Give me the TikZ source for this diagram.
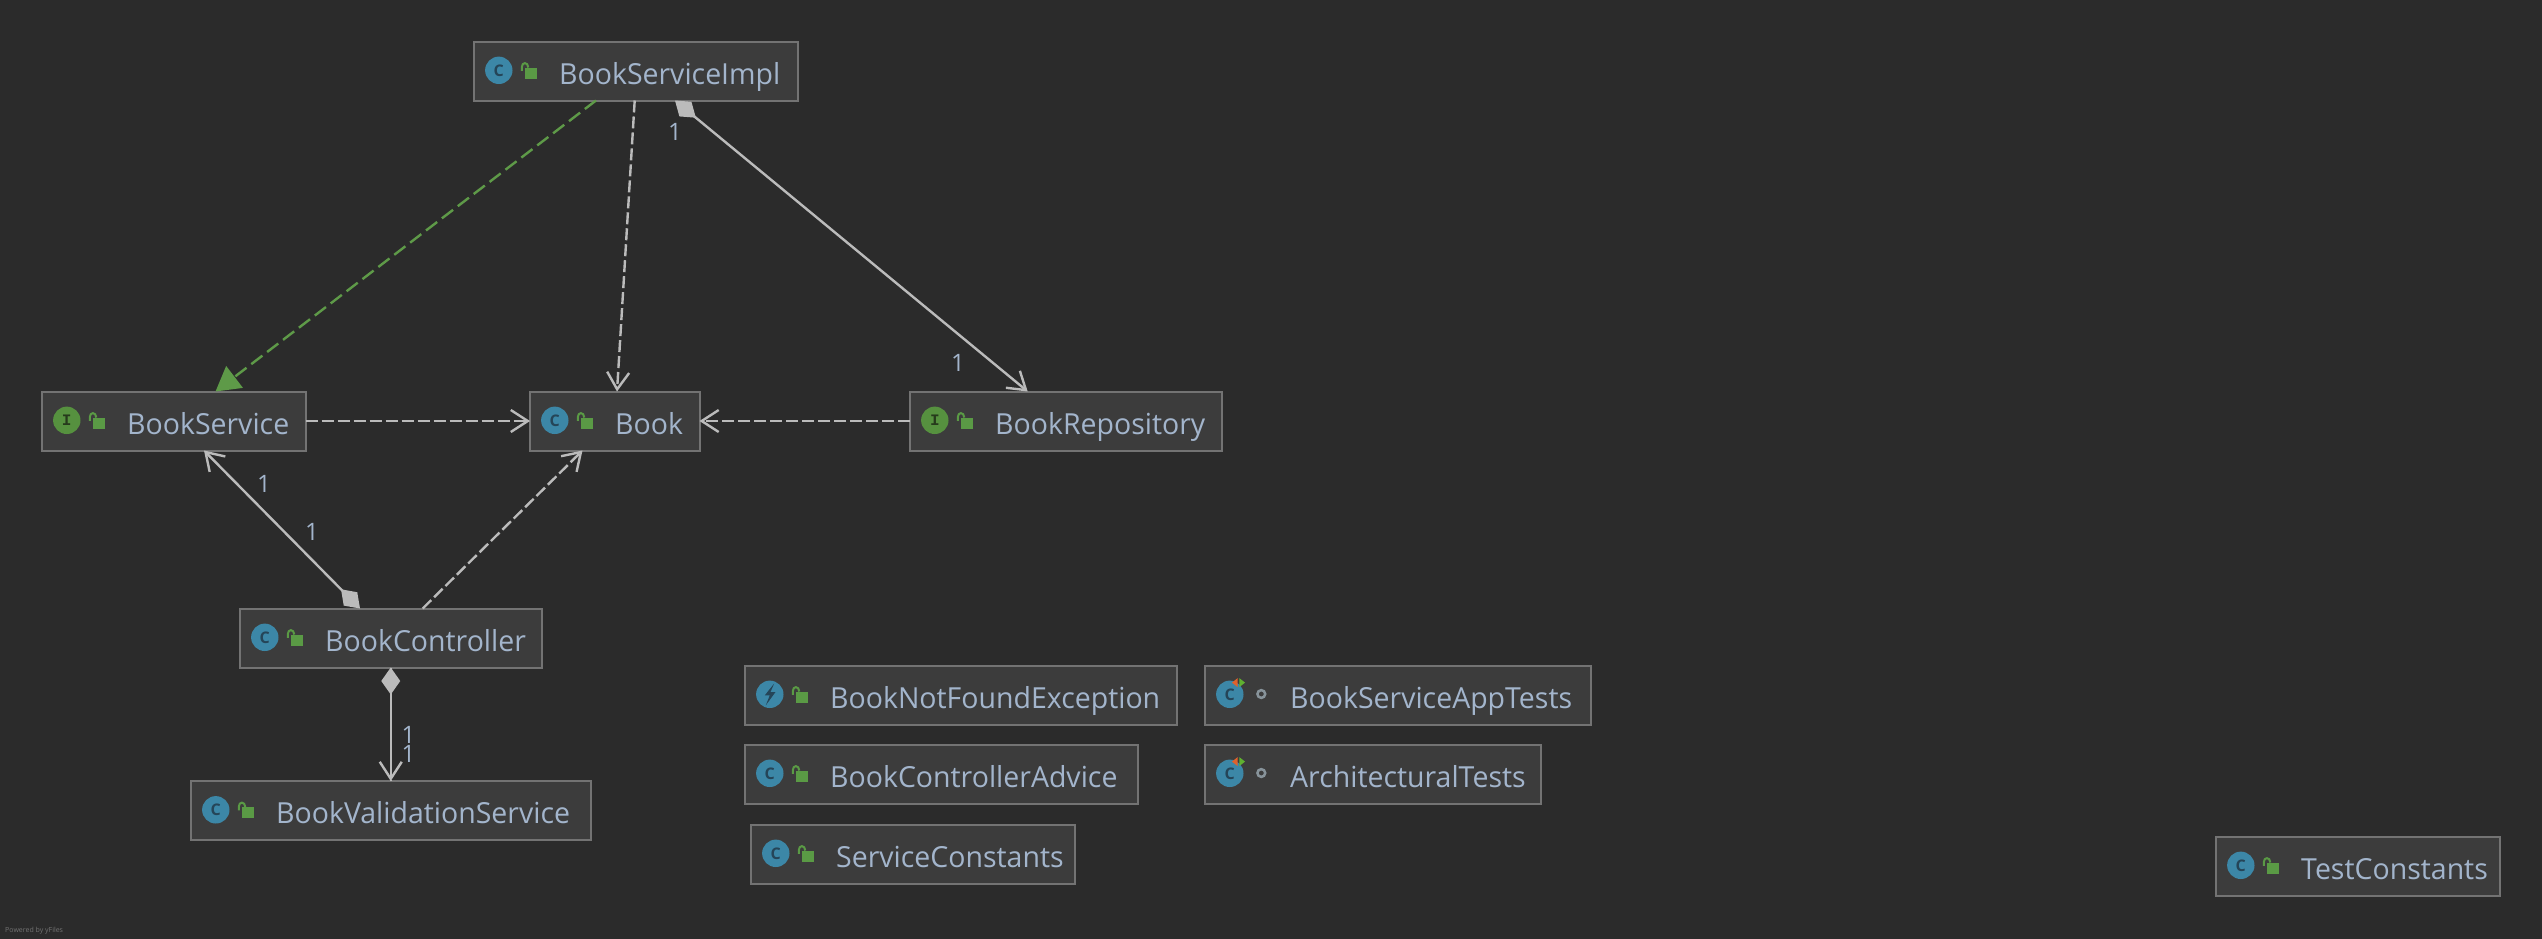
\documentclass[tikz,border=0pt]{standalone}
\usepackage{fontspec}
\setmainfont{Open Sans}
\newfontfamily\boxfam[FakeStretch=0.982]{Open Sans}
\newfontfamily\monofam{Liberation Mono}
\usetikzlibrary{arrows.meta,calc}
\definecolor{bgc}{HTML}{2B2B2B}
\definecolor{boxfill}{HTML}{3C3C3C}
\definecolor{boxline}{HTML}{737373}
\definecolor{txt}{HTML}{A3B5CC}
\definecolor{linec}{HTML}{BBBBBB}
\definecolor{implc}{HTML}{5E9A48}
\definecolor{classc}{HTML}{3C87A7}
\definecolor{ifacec}{HTML}{56913F}
\definecolor{letterc}{HTML}{254558}
\definecolor{letteri}{HTML}{263A1C}
\definecolor{lockc}{HTML}{5A9A45}
\definecolor{ringc}{HTML}{87939A}
\definecolor{redt}{HTML}{E0622C}
\definecolor{greent}{HTML}{5FB030}
\tikzset{
  umlbox/.style={draw=boxline,fill=boxfill,line width=2pt,inner sep=0pt,outer sep=0pt},
  nodetext/.style={anchor=base west,inner sep=0pt,outer sep=0pt,text=txt,font=\boxfam\fontsize{29}{34}\selectfont},
  iconletter/.style={inner sep=0pt,outer sep=0pt,font=\fontsize{16}{18}\selectfont\bfseries},
  mult/.style={inner sep=0pt,outer sep=0pt,text=txt,font=\fontsize{24}{28}\selectfont},
  conn/.style={draw=linec,line width=2.4pt},
  dep/.style={conn,dash pattern=on 12pt off 4pt,-{Straight Barb[length=17pt,width=22pt,line width=2.4pt]}},
  assoc/.style={conn,{Kite[length=27pt,width=19pt,inset=13.5pt]}-{Straight Barb[length=17pt,width=22pt,line width=2.4pt]}},
  realize/.style={draw=implc,line width=2.4pt,dash pattern=on 14pt off 6pt,-{Triangle[length=24pt,width=27pt]}},
}
\newcommand{\lockicon}{%
  \fill[lockc] (50.5,-3.4) rectangle (62.5,7.6);
  \draw[lockc,line width=2pt] (47.8,-0.2) -- (47.8,-4) .. controls (47.8,-9) and (54,-9.5) .. (54.3,-3.5);
}
\newcommand{\iconc}[1]{%
  \fill[classc] (24.8,-0.7) circle[radius=13.7];
  \node[iconletter,text=letterc] (#1-icon) at (24.8,-0.7) {C};
  \lockicon
}
\newcommand{\iconi}[1]{%
  \fill[ifacec] (24.8,-0.7) circle[radius=13.7];
  \node[iconletter,text=letteri,font=\fontsize{16}{18}\selectfont\monofam\bfseries] (#1-icon) at (24.8,-0.7) {I};
  \lockicon
}
\newcommand{\icone}[1]{%
  \fill[classc] (24.8,-0.7) circle[radius=13.7];
  \fill[letterc] (29.1,-11.4) -- (19.8,0.3) -- (24.8,0.3) -- (20.8,10.3) -- (30.5,-3) -- (25.5,-3) -- cycle;
  \lockicon
}
\newcommand{\icont}[1]{%
  \fill[classc] (24.8,-0.7) circle[radius=13.7];
  \node[iconletter,text=letterc] (#1-icon) at (24.8,-0.7) {C};
  \fill[redt] (27,-12.4) -- (32.6,-16.9) -- (32.6,-7.9) -- cycle;
  \fill[greent] (34.3,-16.9) -- (40,-12.4) -- (34.3,-7.9) -- cycle;
  \draw[ringc,line width=2.5pt] (56.3,-1) circle[radius=3.9];
}
% name, left, top, right, bottom, icon kind, text
\newcommand{\umlnode}[7]{%
  \pgfmathsetmacro{\cxx}{(#2+#4)/2}%
  \pgfmathsetmacro{\cyy}{(#3+#5)/2}%
  \pgfmathsetmacro{\www}{#4-#2-2}%
  \pgfmathsetmacro{\hhh}{#5-#3-2}%
  \node[umlbox,minimum width=\www pt,minimum height=\hhh pt] (#1) at (\cxx,\cyy) {};
  \begin{scope}[shift={(#1.west)}]
    \csname icon#6\endcsname{#1}
    \node[nodetext] (#1-text) at (85.2,13) {#7};
  \end{scope}
}
\begin{document}
\begin{tikzpicture}[x=1pt,y=-1pt]
\useasboundingbox (0,0) rectangle (2542,938);
\fill[bgc] (-3,-3) rectangle (2545,941);

\umlnode{impl}{473}{40.5}{798.5}{101.5}{c}{BookServiceImpl}
\umlnode{svc}{41}{390.5}{306.5}{451.5}{i}{BookService}
\umlnode{book}{529}{390.5}{700.5}{451.5}{c}{Book}
\umlnode{repo}{909}{390.5}{1222.5}{451.5}{i}{BookRepository}
\umlnode{ctrl}{239}{607.5}{542.5}{668.5}{c}{BookController}
\umlnode{valid}{190}{780}{591.5}{841}{c}{BookValidationService}
\umlnode{nfe}{744}{664.5}{1177.5}{725.5}{e}{BookNotFoundException}
\umlnode{advice}{744}{743.5}{1138.5}{804.5}{c}{BookControllerAdvice}
\umlnode{const}{750}{823.5}{1075.5}{884.5}{c}{ServiceConstants}
\umlnode{apptests}{1204}{664.5}{1591.5}{725.5}{t}{BookServiceAppTests}
\umlnode{archtests}{1204}{743.5}{1541.5}{804.5}{t}{ArchitecturalTests}
\umlnode{tconst}{2215}{835.5}{2500.5}{896.5}{c}{TestConstants}

\draw[realize] (596,0 |- impl.south) -- (215.5,0 |- svc.north);
\draw[dep] (634.7,0 |- impl.south) -- (617,0 |- book.north);
\draw[assoc] (675,0 |- impl.south) -- (1027.7,0 |- repo.north);
\draw[dep] (svc.east) -- (book.west);
\draw[dep] (repo.west) -- (book.east);
\draw[assoc] (360,0 |- ctrl.north) -- (204,0 |- svc.south);
\draw[dep] (422.7,0 |- ctrl.north) -- (582.5,0 |- book.south);
\draw[assoc] (ctrl.south) -- (ctrl.south |- valid.north);
\draw[conn,dash pattern=on 12pt off 4pt] (ctrl.south) -- (ctrl.south |- valid.north);

\node[mult] (m1) at (675,132) {1};
\node[mult] (m2) at (958,363) {1};
\node[mult] (m3) at (264,484) {1};
\node[mult] (m4) at (312,532) {1};
\node[mult] (m5) at (408.5,735) {1};
\node[mult] (m6) at (408.5,754) {1};
\node[anchor=base west,inner sep=0pt,text=boxline,font=\fontsize{7}{8}\selectfont] (powered) at (5,932) {Powered by yFiles};
\end{tikzpicture}
\end{document}
